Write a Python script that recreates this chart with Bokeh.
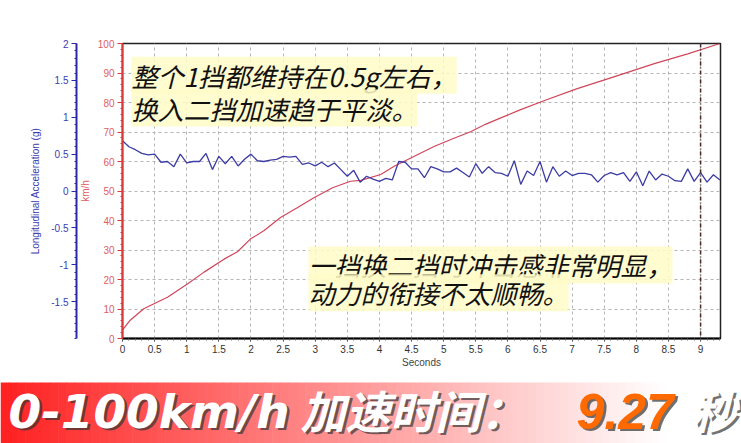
from bokeh.plotting import figure
from bokeh.models import (Range1d, LinearAxis, FixedTicker, SingleIntervalTicker,
                          Span, Label)
from bokeh.layouts import column
from bokeh.embed import file_html
from bokeh.resources import INLINE

# ---------------- data ----------------
acc_time = [0.0, 0.1, 0.2, 0.3, 0.4, 0.5, 0.6, 0.7, 0.8, 0.9,
            1.0, 1.1, 1.2, 1.3, 1.4, 1.5, 1.6, 1.7, 1.8, 1.9,
            2.0, 2.1, 2.2, 2.3, 2.4, 2.5, 2.6, 2.7, 2.8, 2.9,
            3.0, 3.1, 3.2, 3.3, 3.4, 3.5, 3.6, 3.7, 3.8, 3.9,
            4.0, 4.1, 4.2, 4.3, 4.4, 4.5, 4.6, 4.7, 4.8, 4.9,
            5.0, 5.1, 5.2, 5.3, 5.4, 5.5, 5.6, 5.7, 5.8, 5.9,
            6.0, 6.1, 6.2, 6.3, 6.4, 6.5, 6.6, 6.7, 6.8, 6.9,
            7.0, 7.1, 7.2, 7.3, 7.4, 7.5, 7.6, 7.7, 7.8, 7.9,
            8.0, 8.1, 8.2, 8.3, 8.4, 8.5, 8.6, 8.7, 8.8, 8.9,
            9.0, 9.1, 9.2, 9.3]
acc_g = [0.68, 0.60, 0.56, 0.51, 0.49, 0.50, 0.39, 0.40, 0.33, 0.50,
         0.38, 0.40, 0.40, 0.51, 0.29, 0.47, 0.37, 0.47, 0.34, 0.43,
         0.50, 0.41, 0.40, 0.42, 0.43, 0.47, 0.46, 0.47, 0.36, 0.38,
         0.34, 0.39, 0.33, 0.38, 0.29, 0.20, 0.28, 0.12, 0.20, 0.16,
         0.13, 0.17, 0.15, 0.40, 0.39, 0.30, 0.30, 0.18, 0.33, 0.30,
         0.26, 0.26, 0.31, 0.25, 0.19, 0.37, 0.24, 0.33, 0.25, 0.24,
         0.20, 0.41, 0.09, 0.27, 0.21, 0.40, 0.12, 0.33, 0.20, 0.27,
         0.21, 0.24, 0.24, 0.22, 0.12, 0.21, 0.25, 0.22, 0.25, 0.13,
         0.26, 0.07, 0.27, 0.15, 0.23, 0.20, 0.14, 0.13, 0.30, 0.13,
         0.25, 0.12, 0.22, 0.15]

speed_time = [0.0, 0.12, 0.33, 0.70, 1.01, 1.27, 1.58, 1.79, 1.99, 2.20,
              2.46, 2.72, 2.98, 3.27, 3.55, 3.71, 4.02, 4.23, 4.59, 4.85,
              5.16, 5.42, 5.65, 5.89, 6.20, 6.56, 7.08, 7.65, 8.28, 8.80, 9.29]
speed_kmh = [2.8, 6.2, 10.1, 14.0, 18.5, 22.5, 26.9, 29.4, 33.7, 36.5,
             41.0, 44.3, 47.7, 51.1, 53.3, 53.6, 55.6, 58.4, 62.3, 65.1,
             67.9, 70.1, 72.6, 74.8, 77.6, 80.6, 84.7, 88.7, 93.2, 96.5, 99.9]

g_ticks = [-1.5, -1.0, -0.5, 0.0, 0.5, 1.0, 1.5, 2.0]
g_tick_labels = {-1.5: "-1.5", -1.0: "-1", -0.5: "-0.5", 0.0: "0",
                 0.5: "0.5", 1.0: "1", 1.5: "1.5", 2.0: "2"}
finish_time = 9.0

note1 = ["整个1挡都维持在0.5g左右，", "换入二挡加速趋于平淡。"]
note2 = ["一挡换二挡时冲击感非常明显，", "动力的衔接不太顺畅。"]
banner_range = "0-100km/h"
banner_main = "加速时间："
banner_value = "9.27"
banner_unit = "秒"

# ---------------- style ----------------
W = 741
CH = 370                                    # chart canvas height
BH = 443 - CH                               # banner figure height
BAND_TOP = 382                              # coloured band starts here (canvas px)
FL, FR, FT, FB = 122, 720, 43, 340          # frame edges in canvas px
X0, X1 = 0.0, 9.31
V0, V1 = 0.0, 100.0
RED = "#d83a3a"
RED_TXT = "#e06060"
BLUE = "#2a2aa8"
BLUE_TXT = "#3c3cb0"
FONT = "Liberation Sans"
CJK = "Noto Sans CJK SC"


def tx(px):
    return X0 + (px - FL) * (X1 - X0) / (FR - FL)


def vy(py):
    return V0 + (FB - py) * (V1 - V0) / (FB - FT)


p = figure(width=W, height=CH, x_range=Range1d(X0, X1), y_range=Range1d(V0, V1),
           output_backend="svg", toolbar_location=None,
           min_border_left=FL, min_border_right=W - FR, min_border_top=FT,
           min_border_bottom=CH - FB, background_fill_color="white",
           border_fill_color="white", outline_line_color="#222222",
           outline_line_width=1.5)
p.extra_y_ranges = {"acc": Range1d(-2, 2)}

# grid
for g in (p.xgrid, p.ygrid):
    g.grid_line_color = "#b4b4b4"
    g.grid_line_dash = "3 3"
    g.grid_line_width = 1

# x axis
xa = p.xaxis[0]
xa.ticker = SingleIntervalTicker(interval=0.5, num_minor_ticks=5)
xa.axis_line_color = "black"
xa.axis_line_width = 2
xa.major_tick_line_color = "#333333"
xa.minor_tick_line_color = "#666666"
xa.major_tick_out = 3
xa.major_tick_in = 0
xa.minor_tick_out = 2
xa.major_label_text_font = FONT
xa.major_label_text_font_size = "10px"
xa.major_label_text_color = "#333333"
xa.major_label_standoff = 3
xa.axis_label = "Seconds"
xa.axis_label_text_font = FONT
xa.axis_label_text_font_size = "10px"
xa.axis_label_text_font_style = "normal"
xa.axis_label_text_color = "#444444"
xa.axis_label_standoff = 1

# red speed axis (inner)
ya = p.yaxis[0]
ya.ticker = SingleIntervalTicker(interval=10, num_minor_ticks=5)
ya.axis_line_color = RED
ya.axis_line_width = 2
ya.major_tick_line_color = RED
ya.minor_tick_line_color = RED
ya.major_tick_out = 5
ya.major_tick_in = 0
ya.minor_tick_out = 2
ya.major_label_text_font = FONT
ya.major_label_text_font_size = "10px"
ya.major_label_text_color = RED_TXT
ya.major_label_standoff = 3
ya.axis_label = "km/h"
ya.axis_label_text_font = FONT
ya.axis_label_text_font_size = "10px"
ya.axis_label_text_font_style = "normal"
ya.axis_label_text_color = RED_TXT
ya.axis_label_standoff = 4

# blue acceleration axis (outer)
ba = LinearAxis(y_range_name="acc",
                ticker=FixedTicker(ticks=g_ticks,
                                   minor_ticks=[round(-2 + 0.1 * i, 1) for i in range(41)]),
                major_label_overrides=g_tick_labels)
ba.axis_line_color = BLUE
ba.axis_line_width = 2
ba.major_tick_line_color = BLUE
ba.minor_tick_line_color = BLUE
ba.major_tick_out = 5
ba.major_tick_in = 0
ba.minor_tick_out = 2
ba.major_label_text_font = FONT
ba.major_label_text_font_size = "10px"
ba.major_label_text_color = BLUE_TXT
ba.major_label_standoff = 3
ba.axis_label = "Longitudinal Acceleration (g)"
ba.axis_label_text_font = FONT
ba.axis_label_text_font_size = "10px"
ba.axis_label_text_font_style = "normal"
ba.axis_label_text_color = BLUE_TXT
ba.axis_label_standoff = 7
p.add_layout(ba, "left")

# data lines
p.line(speed_time, speed_kmh, line_color="#d0465a", line_width=1.2)
p.line(acc_time, acc_g, y_range_name="acc", line_color="#3c3ca4", line_width=1.3)

# finish marker
p.add_layout(Span(location=finish_time, dimension="height", line_color="#4a2a2a",
                  line_dash="4 2 1 2", line_width=1.5))


# notes
def note(px, py, txt):
    p.add_layout(Label(x=tx(px), y=vy(py), text=txt, text_font=CJK, text_font_size="26px",
                       text_font_style="italic", text_color="#111111",
                       text_baseline="middle", text_align="left",
                       background_fill_color="#fffbc8", background_fill_alpha=0.85))


note(131, 75, note1[0])
note(131, 108, note1[1])
note(308, 266, note2[0])
note(308, 294, note2[1])

# ---------------- banner (separate figure, pixel data units) ----------------
b = figure(frame_width=W, frame_height=BH, x_range=Range1d(0, W), y_range=Range1d(BH, 0),
           output_backend="svg", toolbar_location=None, min_border=0,
           x_axis_location=None, y_axis_location=None,
           outline_line_color=None, background_fill_color="white",
           border_fill_color="white")
b.grid.visible = False
for fig in (p, b):
    if "frame_align" in fig.properties():
        fig.frame_align = False

n = 90
lefts, rights, cols = [], [], []
for i in range(n):
    f = i / (n - 1)
    fade = min(1.0, f / 0.9)
    gb = int(34 + (255 - 34) * fade)
    lefts.append(W * i / n)
    rights.append(W * (i + 1) / n + 0.6)
    cols.append("#%02x%02x%02x" % (255, gb, gb))
b.quad(left=lefts, right=rights, top=[BAND_TOP - CH] * n, bottom=[BH] * n,
       fill_color=cols, line_color=None)


def btxt(px, py, txt, color, font, size, align="left"):
    for dx, dy, col, alpha in ((2.5, 1.5, "#333333", 0.7), (0, 0, color, 1.0)):
        b.add_layout(Label(x=px + dx, y=py - CH + dy, text=txt, text_font=font,
                           text_font_size=size, text_font_style="bold italic",
                           text_color=col, text_alpha=alpha,
                           text_baseline="middle", text_align=align))


btxt(8, 411, banner_range, "white", "DejaVu Sans", "47px")
btxt(300, 409, banner_main, "white", CJK, "45px")
btxt(576, 411, banner_value, "#ff6a00", FONT, "50px")
btxt(736, 409, banner_unit, "white", CJK, "45px", align="right")

layout = column(p, b, spacing=0)
open("out.html", "w").write(file_html(layout, INLINE))
